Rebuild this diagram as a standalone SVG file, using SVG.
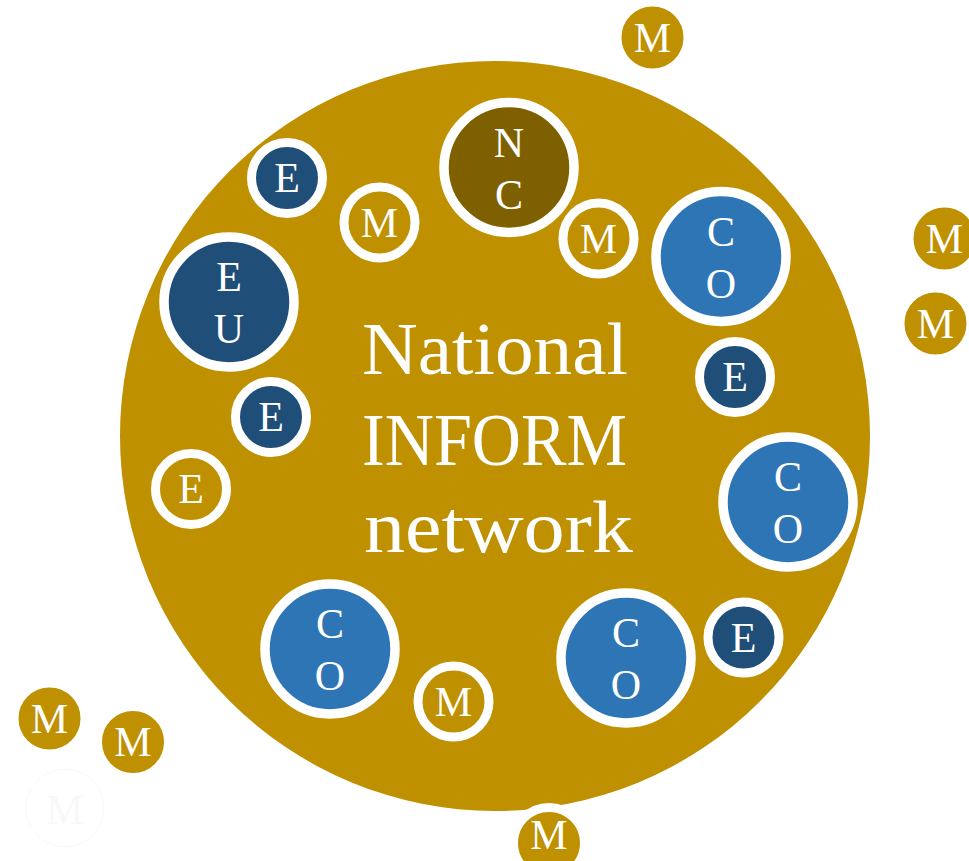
<svg xmlns="http://www.w3.org/2000/svg" width="969" height="861" viewBox="0 0 969 861">
<style>
.gold{fill:#BF9000}
.navy{fill:#1F4E79}
.blue{fill:#2E75B6}
.brown{fill:#7F6000}
.ringB{stroke:#fff;stroke-width:9.5}
.ringS{stroke:#fff;stroke-width:9}
.lbl{font-family:"Liberation Serif","DejaVu Serif",serif;font-size:42px;fill:#fff;text-anchor:middle}
.title{font-family:"Liberation Serif","DejaVu Serif",serif;font-size:75px;fill:#fff}
</style>
<rect width="969" height="861" fill="#fff"/>
<g id="network">
  <circle class="gold" cx="495" cy="436" r="375"/>
  <text class="title" x="362" y="374" textLength="266" lengthAdjust="spacingAndGlyphs">National</text>
  <text class="title" x="362" y="465" textLength="265" lengthAdjust="spacingAndGlyphs">INFORM</text>
  <text class="title" x="364" y="552" textLength="269" lengthAdjust="spacingAndGlyphs">network</text>
</g>
<g id="connectors"/>
<g id="nc"><circle class="brown ringB" cx="509" cy="167.5" r="65"/><text class="lbl" x="509" y="156.5">N</text><text class="lbl" x="509" y="208.5">C</text></g>
<g id="eu"><circle class="navy ringB" cx="229" cy="302" r="65"/><text class="lbl" x="229" y="291">E</text><text class="lbl" x="229" y="343">U</text></g>
<g id="co1"><circle class="blue ringB" cx="721" cy="256.5" r="65"/><text class="lbl" x="721" y="245.5">C</text><text class="lbl" x="721" y="297.5">O</text></g>
<g id="co2"><circle class="blue ringB" cx="788" cy="502" r="65"/><text class="lbl" x="788" y="491">C</text><text class="lbl" x="788" y="543">O</text></g>
<g id="co3"><circle class="blue ringB" cx="330" cy="649" r="65"/><text class="lbl" x="330" y="638">C</text><text class="lbl" x="330" y="690">O</text></g>
<g id="co4"><circle class="blue ringB" cx="626" cy="658" r="65"/><text class="lbl" x="626" y="647">C</text><text class="lbl" x="626" y="699">O</text></g>
<g id="e1"><circle class="navy ringS" cx="287" cy="178" r="35.5"/><text class="lbl" x="287" y="192">E</text></g>
<g id="e2"><circle class="navy ringS" cx="271" cy="417" r="35.5"/><text class="lbl" x="271" y="431">E</text></g>
<g id="e3"><circle class="gold ringS" cx="191" cy="489" r="35.5"/><text class="lbl" x="191" y="503">E</text></g>
<g id="e4"><circle class="navy ringS" cx="735" cy="377" r="35.5"/><text class="lbl" x="735" y="391">E</text></g>
<g id="e5"><circle class="navy ringS" cx="743.5" cy="637.5" r="35.5"/><text class="lbl" x="743.5" y="651.5">E</text></g>
<g id="m1"><circle class="gold ringS" cx="379.5" cy="222.5" r="35.5"/><text class="lbl" x="379.5" y="236.5">M</text></g>
<g id="m2"><circle class="gold ringS" cx="598.5" cy="238.5" r="35.5"/><text class="lbl" x="598.5" y="252.5">M</text></g>
<g id="m3"><circle class="gold ringS" cx="453.5" cy="701.5" r="35.5"/><text class="lbl" x="453.5" y="715.5">M</text></g>
<g id="m-top"><circle class="gold ringS" cx="652.5" cy="37.5" r="35.5"/><text class="lbl" x="652.5" y="51.5">M</text></g>
<g id="m-right1"><circle class="gold ringS" cx="944.5" cy="238.5" r="35.5"/><text class="lbl" x="944.5" y="252.5">M</text></g>
<g id="m-right2"><circle class="gold ringS" cx="935.5" cy="323.5" r="35.5"/><text class="lbl" x="935.5" y="337.5">M</text></g>
<g id="m-left1"><circle class="gold ringS" cx="49.5" cy="718.5" r="35.5"/><text class="lbl" x="49.5" y="732.5">M</text></g>
<g id="m-left2"><circle class="gold ringS" cx="133" cy="742" r="35.5"/><text class="lbl" x="133" y="756">M</text></g>
<g id="m-bottom"><circle class="gold ringS" cx="549" cy="843" r="35.5"/><text class="lbl" x="549" y="849">M</text></g>
<g id="m-ghost" opacity="0.05"><circle cx="65" cy="808" r="39" fill="none" stroke="#888" stroke-width="1"/><text class="lbl" x="65" y="824" style="fill:#888">M</text></g>
</svg>
